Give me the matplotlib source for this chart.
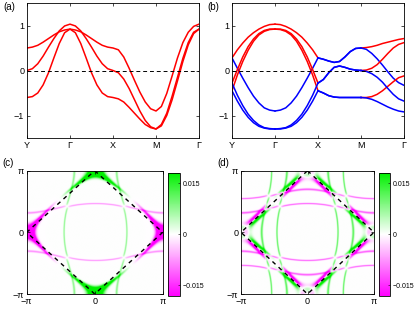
import numpy as np
import matplotlib
matplotlib.use("Agg")
import matplotlib.pyplot as plt
from matplotlib.colors import LinearSegmentedColormap

plt.rcParams['font.family'] = ['Liberation Sans', 'DejaVu Sans']
plt.rcParams['font.size'] = 6.5

# ---- band structure along Y-G-X-M-G, 8 samples per segment ----
PATH_LABELS = ['Y', 'Γ', 'X', 'M', 'Γ']
N_SEG = 8

# panel (a): three bands
A_BANDS = [
    [0.50, 0.52, 0.56, 0.63, 0.71, 0.79, 0.86, 0.90, 0.92,
     0.90, 0.86, 0.79, 0.71, 0.63, 0.56, 0.52, 0.50,
     0.46, 0.30, 0.05, -0.22, -0.48, -0.70, -0.85, -0.90,
     -0.80, -0.51, -0.12, 0.28, 0.62, 0.85, 0.98, 1.03],
    [0.00, 0.04, 0.15, 0.32, 0.52, 0.71, 0.88, 0.99, 1.03,
     0.99, 0.88, 0.71, 0.52, 0.32, 0.15, 0.04, 0.00,
     -0.05, -0.19, -0.40, -0.65, -0.90, -1.11, -1.25, -1.30,
     -1.20, -0.95, -0.57, -0.15, 0.27, 0.62, 0.85, 0.92],
    [-0.60, -0.58, -0.50, -0.32, -0.05, 0.28, 0.60, 0.84, 0.92,
     0.84, 0.60, 0.28, -0.05, -0.32, -0.50, -0.58, -0.60,
     -0.63, -0.70, -0.82, -0.95, -1.08, -1.20, -1.27, -1.30,
     -1.23, -1.00, -0.65, -0.23, 0.20, 0.57, 0.82, 0.92],
]

# panel (b): six bands, colour per segment (YG, GX, XM, MG)
B_BANDS = [
    [0.28, 0.46, 0.61, 0.74, 0.84, 0.92, 0.98, 1.02, 1.03,
     1.02, 0.98, 0.92, 0.84, 0.74, 0.61, 0.46, 0.28,
     0.25, 0.21, 0.18, 0.20, 0.30, 0.42, 0.49, 0.50,
     0.51, 0.53, 0.56, 0.60, 0.63, 0.66, 0.69, 0.71],
    [0.28, 0.05, -0.17, -0.38, -0.57, -0.72, -0.83, -0.88, -0.90,
     -0.88, -0.83, -0.72, -0.57, -0.38, -0.17, 0.05, 0.28,
     0.25, 0.21, 0.18, 0.20, 0.30, 0.42, 0.49, 0.50,
     0.47, 0.38, 0.26, 0.12, -0.03, -0.17, -0.27, -0.33],
    [-0.28, 0.02, 0.30, 0.53, 0.70, 0.82, 0.89, 0.92, 0.92,
     0.92, 0.89, 0.82, 0.70, 0.53, 0.30, 0.02, -0.28,
     -0.20, -0.05, 0.07, 0.10, 0.07, 0.03, 0.01, 0.00,
     0.01, 0.05, 0.13, 0.25, 0.38, 0.50, 0.58, 0.62],
    [-0.45, -0.10, 0.20, 0.45, 0.65, 0.79, 0.87, 0.91, 0.92,
     0.91, 0.87, 0.79, 0.65, 0.45, 0.20, -0.10, -0.45,
     -0.50, -0.56, -0.59, -0.60, -0.60, -0.60, -0.60, -0.60,
     -0.60, -0.58, -0.53, -0.45, -0.35, -0.25, -0.16, -0.12],
    [-0.28, -0.55, -0.78, -0.97, -1.11, -1.21, -1.27, -1.29, -1.30,
     -1.29, -1.27, -1.21, -1.11, -0.97, -0.78, -0.55, -0.28,
     -0.20, -0.05, 0.07, 0.10, 0.07, 0.03, 0.01, 0.00,
     -0.02, -0.07, -0.15, -0.26, -0.40, -0.53, -0.63, -0.68],
    [-0.45, -0.68, -0.88, -1.04, -1.16, -1.24, -1.28, -1.30, -1.30,
     -1.30, -1.28, -1.24, -1.16, -1.04, -0.88, -0.68, -0.45,
     -0.50, -0.56, -0.59, -0.60, -0.60, -0.60, -0.60, -0.60,
     -0.61, -0.64, -0.69, -0.75, -0.81, -0.86, -0.90, -0.92],
]
B_COLORS = [
    ['r', 'r', 'b', 'r'],
    ['b', 'b', 'b', 'b'],
    ['r', 'r', 'b', 'r'],
    ['r', 'r', 'b', 'r'],
    ['b', 'b', 'b', 'b'],
    ['b', 'b', 'b', 'b'],
]

# ---- three-orbital model used for the Fermi-surface maps ----
XZ_HOP = [0.94, 0.168, 0.11, -0.30]   # cos kx, cos ky, cos kx cos ky, onsite
XY_HOP = [0.50, 0.107, 0.10]          # (cos kx + cos ky), cos kx cos ky, onsite
V_XZ_YZ = 0.06
DELTA_AF = 0.025
SIGMA = 0.035
W_XZ, W_XY, XY_POW = 0.55, 2.2, 1.5
AMP = [0.015, 0.022]                  # panel (c), panel (d)
CBAR_LIM = 0.0181
CBAR_TICKS = [-0.015, 0, 0.015]
NK = 420


def h0(kx, ky):
    cx, cy = np.cos(kx), np.cos(ky)
    a, b, d, m = XZ_HOP
    c3, e3, m3 = XY_HOP
    H = np.zeros(kx.shape + (3, 3))
    H[..., 0, 0] = a * cx + b * cy + d * cx * cy + m
    H[..., 1, 1] = b * cx + a * cy + d * cx * cy + m
    H[..., 2, 2] = c3 * (cx + cy) + e3 * cx * cy + m3
    v = V_XZ_YZ * np.sin(kx) * np.sin(ky)
    H[..., 0, 1] = v
    H[..., 1, 0] = v
    return H


def orb_weight(kx, ky):
    dd = (np.cos(kx) - np.cos(ky)) / 2
    g = np.sign(dd) * np.abs(dd) ** XY_POW
    return np.stack([W_XZ * np.ones_like(kx), -W_XZ * np.ones_like(kx), W_XY * g], axis=-1)


def fs_map(folded):
    k = np.linspace(-np.pi, np.pi, NK)
    KX, KY = np.meshgrid(k, k)
    if not folded:
        H = h0(KX, KY)
        w = orb_weight(KX, KY)
    else:
        H = np.zeros(KX.shape + (6, 6))
        H[..., :3, :3] = h0(KX, KY)
        H[..., 3:, 3:] = h0(KX + np.pi, KY + np.pi)
        for i in range(3):
            H[..., i, i + 3] = DELTA_AF
            H[..., i + 3, i] = DELTA_AF
        w = np.concatenate([orb_weight(KX, KY), orb_weight(KX + np.pi, KY + np.pi)], axis=-1)
    E, U = np.linalg.eigh(H)
    spec = np.exp(-(E / SIGMA) ** 2)
    proj = np.einsum('...on,...o->...n', np.abs(U) ** 2, w)
    return np.sum(proj * spec, axis=-1)


def style_axes(ax):
    ax.tick_params(direction='in', top=True, right=True, length=2.5, width=0.5, pad=2)
    for s in ax.spines.values():
        s.set_linewidth(0.6)


def band_axes(ax):
    ax.set_xlim(0, 4)
    ax.set_ylim(-1.5, 1.5)
    ax.set_xticks(range(5))
    ax.set_xticklabels(PATH_LABELS)
    ax.set_yticks([-1, 0, 1])
    ax.set_yticklabels(['−1', '0', '1'])
    ax.axhline(0, color='k', ls=(0, (4, 3)), lw=0.7)
    style_axes(ax)


cmap = LinearSegmentedColormap.from_list('pw', ['#ff00ff', '#ffffff', '#00f000'])

fig = plt.figure(figsize=(4.15, 3.12), dpi=100)
W, H = 415, 312


def px_axes(l, t, r, b):
    return fig.add_axes([l / W, 1 - b / H, (r - l) / W, (b - t) / H])


t = np.linspace(0, 4, 4 * N_SEG + 1)

ax = px_axes(27, 3, 199, 138)
for band in A_BANDS:
    ax.plot(t, band, color='r', lw=1.1)
band_axes(ax)
fig.text(3 / W, 1 - 10 / H, '(a)', fontsize=7)

ax = px_axes(232, 3, 404, 138)
for band, cols in zip(B_BANDS, B_COLORS):
    band = np.asarray(band)
    for s, c in enumerate(cols):
        sl = slice(s * N_SEG, (s + 1) * N_SEG + 1)
        ax.plot(t[sl], band[sl], color='r' if c == 'r' else 'b', lw=1.1)
band_axes(ax)
fig.text(207 / W, 1 - 10 / H, '(b)', fontsize=7)

PANELS = [(False, '(c)', 26.7, 162.7, 168.3, 180.0),
          (True, '(d)', 241.0, 374.0, 378.5, 390.0)]
for i, (folded, lab, xl, xr, cl, cr) in enumerate(PANELS):
    ax = px_axes(xl, 170.7, xr, 294)
    img = AMP[i] * fs_map(folded)
    im = ax.imshow(img, origin='lower', extent=[-np.pi, np.pi, -np.pi, np.pi],
                   cmap=cmap, vmin=-CBAR_LIM, vmax=CBAR_LIM, aspect='auto',
                   interpolation='antialiased')
    ax.plot([0, np.pi, 0, -np.pi, 0], [np.pi, 0, -np.pi, 0, np.pi], color='k',
            ls=(0, (3, 3)), lw=1.0)
    ax.set_xlim(-np.pi, np.pi)
    ax.set_ylim(-np.pi, np.pi)
    ax.set_xticks([-np.pi, 0, np.pi])
    ax.set_xticklabels(['−π', '0', 'π'])
    ax.set_yticks([-np.pi, 0, np.pi])
    ax.set_yticklabels(['−π', '0', 'π'])
    style_axes(ax)
    fig.text((xl - 24) / W, 1 - 166 / H, lab, fontsize=7)
    cax = px_axes(cl, 172.7, cr, 296)
    cb = fig.colorbar(im, cax=cax, ticks=CBAR_TICKS)
    cb.ax.set_yticklabels(['−0.015', '0', '0.015'])
    cb.ax.tick_params(direction='in', length=1.5, width=0.4, labelsize=5, pad=2)
    cb.outline.set_linewidth(0.6)

fig.savefig('out.png', dpi=100)
